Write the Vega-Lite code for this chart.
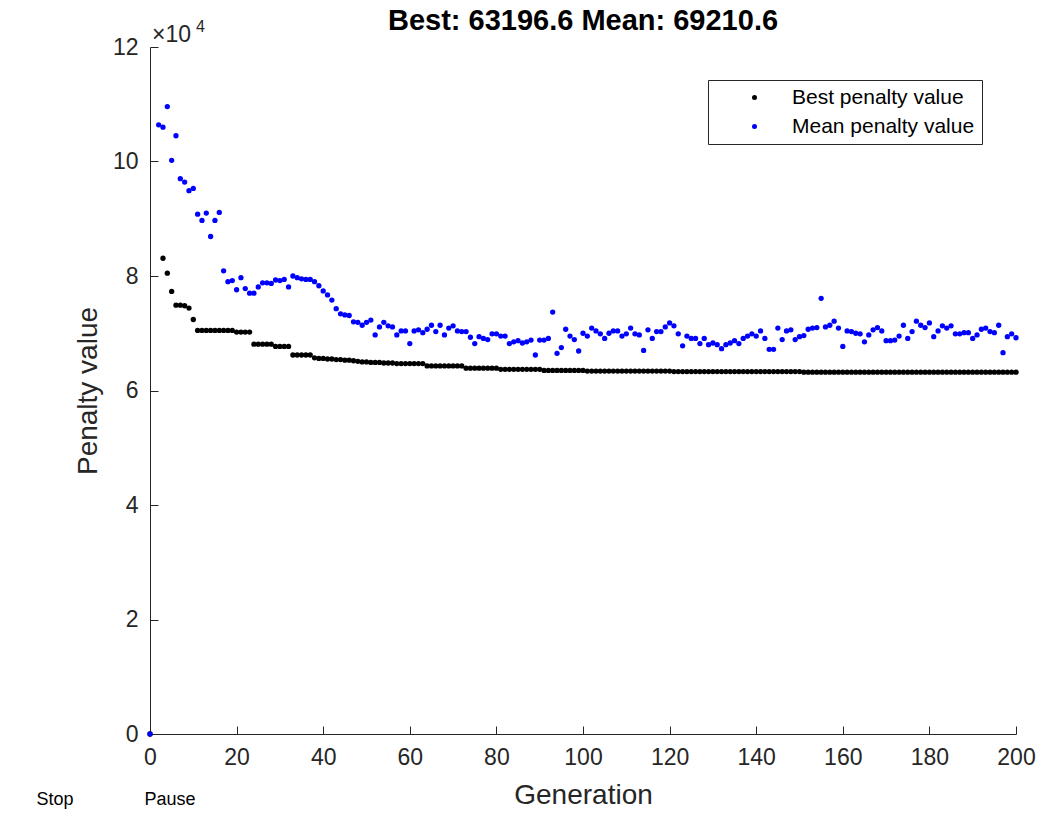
{
  "$schema": "https://vega.github.io/schema/vega-lite/v6.json",
  "width": 866,
  "height": 687,
  "autosize": {"type": "none"},
  "padding": {"left": 150, "top": 47, "right": 24, "bottom": 82},
  "background": "white",
  "config": {"view": {"stroke": null}, "font": "Liberation Sans"},
  "title": {"text": "Best: 63196.6 Mean: 69210.6", "fontSize": 29, "fontWeight": "bold", "color": "#000000", "anchor": "middle", "offset": 0, "dy": 17, "font": "Liberation Sans"},
  "data": {"values": [
    {"g":0,"b":0,"m":0},{"g":2,"b":null,"m":106400},{"g":3,"b":83100,"m":106000},{"g":4,"b":80500,"m":109600},{"g":5,"b":77300,"m":100200},
    {"g":6,"b":74900,"m":104500},{"g":7,"b":74900,"m":97000},{"g":8,"b":74800,"m":96400},{"g":9,"b":74400,"m":94900},{"g":10,"b":72400,"m":95300},
    {"g":11,"b":70500,"m":90800},{"g":12,"b":70500,"m":89700},{"g":13,"b":70500,"m":91000},{"g":14,"b":70500,"m":86900},{"g":15,"b":70500,"m":89700},
    {"g":16,"b":70500,"m":91100},{"g":17,"b":70500,"m":80900},{"g":18,"b":70500,"m":79000},{"g":19,"b":70500,"m":79200},{"g":20,"b":70200,"m":77600},
    {"g":21,"b":70200,"m":79700},{"g":22,"b":70200,"m":77800},{"g":23,"b":70200,"m":77000},{"g":24,"b":68100,"m":77000},{"g":25,"b":68100,"m":78100},
    {"g":26,"b":68100,"m":78800},{"g":27,"b":68100,"m":78800},{"g":28,"b":68100,"m":78700},{"g":29,"b":67700,"m":79300},{"g":30,"b":67700,"m":79200},
    {"g":31,"b":67700,"m":79400},{"g":32,"b":67700,"m":78100},{"g":33,"b":66200,"m":80000},{"g":34,"b":66200,"m":79700},{"g":35,"b":66200,"m":79500},
    {"g":36,"b":66200,"m":79400},{"g":37,"b":66200,"m":79400},{"g":38,"b":65700,"m":79000},{"g":39,"b":65600,"m":78300},{"g":40,"b":65600,"m":77400},
    {"g":41,"b":65500,"m":76700},{"g":42,"b":65500,"m":75800},{"g":43,"b":65400,"m":74300},{"g":44,"b":65400,"m":73400},{"g":45,"b":65300,"m":73200},
    {"g":46,"b":65300,"m":73100},{"g":47,"b":65200,"m":72000},{"g":48,"b":65100,"m":71900},{"g":49,"b":65000,"m":71400},{"g":50,"b":65000,"m":71900},
    {"g":51,"b":64900,"m":72300},{"g":52,"b":64900,"m":69700},{"g":53,"b":64900,"m":71100},{"g":54,"b":64800,"m":71900},{"g":55,"b":64800,"m":71300},
    {"g":56,"b":64800,"m":71100},{"g":57,"b":64700,"m":69700},{"g":58,"b":64700,"m":70400},{"g":59,"b":64700,"m":70400},{"g":60,"b":64700,"m":68200},
    {"g":61,"b":64700,"m":70400},{"g":62,"b":64700,"m":70600},{"g":63,"b":64700,"m":70100},{"g":64,"b":64300,"m":70700},{"g":65,"b":64300,"m":71400},
    {"g":66,"b":64300,"m":70300},{"g":67,"b":64300,"m":71400},{"g":68,"b":64300,"m":69700},{"g":69,"b":64300,"m":70900},{"g":70,"b":64300,"m":71300},
    {"g":71,"b":64300,"m":70400},{"g":72,"b":64300,"m":70300},{"g":73,"b":63900,"m":70300},{"g":74,"b":63900,"m":69300},{"g":75,"b":63900,"m":68200},
    {"g":76,"b":63900,"m":69400},{"g":77,"b":63900,"m":69100},{"g":78,"b":63900,"m":68900},{"g":79,"b":63900,"m":69900},{"g":80,"b":63900,"m":69900},
    {"g":81,"b":63700,"m":69500},{"g":82,"b":63700,"m":69500},{"g":83,"b":63700,"m":68200},{"g":84,"b":63700,"m":68500},{"g":85,"b":63700,"m":68700},
    {"g":86,"b":63700,"m":68300},{"g":87,"b":63700,"m":68500},{"g":88,"b":63700,"m":68800},{"g":89,"b":63700,"m":66200},{"g":90,"b":63700,"m":68800},
    {"g":91,"b":63500,"m":68800},{"g":92,"b":63500,"m":69100},{"g":93,"b":63500,"m":73700},{"g":94,"b":63500,"m":66500},{"g":95,"b":63500,"m":67500},
    {"g":96,"b":63500,"m":70700},{"g":97,"b":63500,"m":69500},{"g":98,"b":63500,"m":68900},{"g":99,"b":63500,"m":66900},{"g":100,"b":63500,"m":70000},
    {"g":101,"b":63400,"m":69500},{"g":102,"b":63400,"m":70900},{"g":103,"b":63400,"m":70400},{"g":104,"b":63400,"m":69900},{"g":105,"b":63400,"m":69100},
    {"g":106,"b":63400,"m":70000},{"g":107,"b":63400,"m":70400},{"g":108,"b":63400,"m":70400},{"g":109,"b":63400,"m":69500},{"g":110,"b":63400,"m":69900},
    {"g":111,"b":63400,"m":70900},{"g":112,"b":63400,"m":69900},{"g":113,"b":63400,"m":69700},{"g":114,"b":63400,"m":67000},{"g":115,"b":63400,"m":70600},
    {"g":116,"b":63400,"m":69100},{"g":117,"b":63400,"m":70300},{"g":118,"b":63400,"m":70300},{"g":119,"b":63400,"m":71100},{"g":120,"b":63400,"m":71800},
    {"g":121,"b":63300,"m":71300},{"g":122,"b":63300,"m":69900},{"g":123,"b":63300,"m":67800},{"g":124,"b":63300,"m":69500},{"g":125,"b":63300,"m":69100},
    {"g":126,"b":63300,"m":69100},{"g":127,"b":63300,"m":68200},{"g":128,"b":63300,"m":69100},{"g":129,"b":63300,"m":68000},{"g":130,"b":63300,"m":68300},
    {"g":131,"b":63300,"m":68000},{"g":132,"b":63300,"m":67300},{"g":133,"b":63300,"m":68000},{"g":134,"b":63300,"m":68300},{"g":135,"b":63300,"m":68700},
    {"g":136,"b":63300,"m":68200},{"g":137,"b":63300,"m":69100},{"g":138,"b":63300,"m":69500},{"g":139,"b":63300,"m":69900},{"g":140,"b":63300,"m":69500},
    {"g":141,"b":63300,"m":70400},{"g":142,"b":63300,"m":69100},{"g":143,"b":63300,"m":67200},{"g":144,"b":63300,"m":67200},{"g":145,"b":63300,"m":70900},
    {"g":146,"b":63300,"m":68900},{"g":147,"b":63300,"m":70400},{"g":148,"b":63300,"m":70600},{"g":149,"b":63300,"m":68900},{"g":150,"b":63300,"m":69400},
    {"g":151,"b":63200,"m":69600},{"g":152,"b":63200,"m":70700},{"g":153,"b":63200,"m":70900},{"g":154,"b":63200,"m":71000},{"g":155,"b":63200,"m":76100},
    {"g":156,"b":63200,"m":71100},{"g":157,"b":63200,"m":71400},{"g":158,"b":63200,"m":72100},{"g":159,"b":63200,"m":70900},{"g":160,"b":63200,"m":67700},
    {"g":161,"b":63200,"m":70400},{"g":162,"b":63200,"m":70300},{"g":163,"b":63200,"m":70000},{"g":164,"b":63200,"m":69900},{"g":165,"b":63200,"m":68500},
    {"g":166,"b":63200,"m":69700},{"g":167,"b":63200,"m":70600},{"g":168,"b":63200,"m":71000},{"g":169,"b":63200,"m":70400},{"g":170,"b":63200,"m":68700},
    {"g":171,"b":63200,"m":68700},{"g":172,"b":63200,"m":68800},{"g":173,"b":63200,"m":69500},{"g":174,"b":63200,"m":71400},{"g":175,"b":63200,"m":69100},
    {"g":176,"b":63200,"m":70300},{"g":177,"b":63200,"m":72100},{"g":178,"b":63200,"m":71400},{"g":179,"b":63200,"m":71000},{"g":180,"b":63200,"m":71800},
    {"g":181,"b":63200,"m":69400},{"g":182,"b":63200,"m":70400},{"g":183,"b":63200,"m":71300},{"g":184,"b":63200,"m":70900},{"g":185,"b":63200,"m":71300},
    {"g":186,"b":63200,"m":69900},{"g":187,"b":63200,"m":69900},{"g":188,"b":63200,"m":70100},{"g":189,"b":63200,"m":70100},{"g":190,"b":63200,"m":69100},
    {"g":191,"b":63200,"m":69700},{"g":192,"b":63200,"m":70700},{"g":193,"b":63200,"m":70900},{"g":194,"b":63200,"m":70300},{"g":195,"b":63200,"m":70100},
    {"g":196,"b":63200,"m":71400},{"g":197,"b":63200,"m":66600},{"g":198,"b":63200,"m":69400},{"g":199,"b":63200,"m":69900},{"g":200,"b":63197,"m":69211}
  ]},
  "layer": [
    {
      "transform": [{"fold": ["b", "m"], "as": ["s", "v"]}],
      "mark": {"type": "circle", "size": 28, "opacity": 1, "clip": false},
      "encoding": {
        "x": {"field": "g", "type": "quantitative",
          "scale": {"domain": [0, 200], "nice": false, "zero": false},
          "axis": {"values": [0,20,40,60,80,100,120,140,160,180,200], "title": "Generation", "grid": false,
            "labelFontSize": 23, "labelColor": "#262626", "labelFont": "Liberation Sans", "labelPadding": 20,
            "domainColor": "#262626", "tickColor": "#262626", "tickSize": -8,
            "titleFontSize": 28, "titleFontWeight": "normal", "titleColor": "#262626", "titleFont": "Liberation Sans", "titlePadding": 12, "labelFlush": false}},
        "y": {"field": "v", "type": "quantitative",
          "scale": {"domain": [0, 120000], "nice": false},
          "axis": {"values": [0,20000,40000,60000,80000,100000,120000], "labelExpr": "datum.value / 10000", "title": "Penalty value", "grid": false,
            "labelFontSize": 23, "labelColor": "#262626", "labelFont": "Liberation Sans", "labelPadding": 20,
            "domainColor": "#262626", "tickColor": "#262626", "tickSize": -8,
            "titleFontSize": 28, "titleFontWeight": "normal", "titleColor": "#262626", "titleFont": "Liberation Sans", "titlePadding": 10, "labelFlush": false}},
        "color": {"field": "s", "type": "nominal",
          "scale": {"domain": ["b", "m"], "range": ["#000000", "#0000ff"]},
          "legend": {"orient": "none", "legendX": 558, "legendY": 33, "title": null,
            "labelExpr": "datum.label == 'b' ? 'Best penalty value' : 'Mean penalty value'",
            "strokeColor": "#262626", "fillColor": "white", "padding": 7, "cornerRadius": 0,
            "labelFontSize": 21, "labelLimit": 400, "labelColor": "#000000", "labelFont": "Liberation Sans",
            "symbolType": "circle", "symbolSize": 25, "symbolOffset": 29, "labelOffset": 27, "rowPadding": 7}}
      }
    },
    {
      "data": {"values": [{"t": "×10"}]},
      "mark": {"type": "text", "align": "left", "baseline": "alphabetic", "dx": 2, "dy": -5, "fontSize": 23, "color": "#262626", "font": "Liberation Sans"},
      "encoding": {"text": {"field": "t"}, "x": {"datum": 0}, "y": {"datum": 120000}}
    },
    {
      "data": {"values": [{"t": "4"}]},
      "mark": {"type": "text", "align": "left", "baseline": "alphabetic", "dx": 46, "dy": -15, "fontSize": 16, "color": "#262626", "font": "Liberation Sans"},
      "encoding": {"text": {"field": "t"}, "x": {"datum": 0}, "y": {"datum": 120000}}
    },
    {
      "data": {"values": [{"t": "Stop"}]},
      "mark": {"type": "text", "align": "center", "baseline": "middle", "dx": -95, "dy": 66, "fontSize": 18, "color": "#000000", "font": "Liberation Sans"},
      "encoding": {"text": {"field": "t"}, "x": {"datum": 0}, "y": {"datum": 0}}
    },
    {
      "data": {"values": [{"t": "Pause"}]},
      "mark": {"type": "text", "align": "center", "baseline": "middle", "dx": 20, "dy": 66, "fontSize": 18, "color": "#000000", "font": "Liberation Sans"},
      "encoding": {"text": {"field": "t"}, "x": {"datum": 0}, "y": {"datum": 0}}
    }
  ]
}
